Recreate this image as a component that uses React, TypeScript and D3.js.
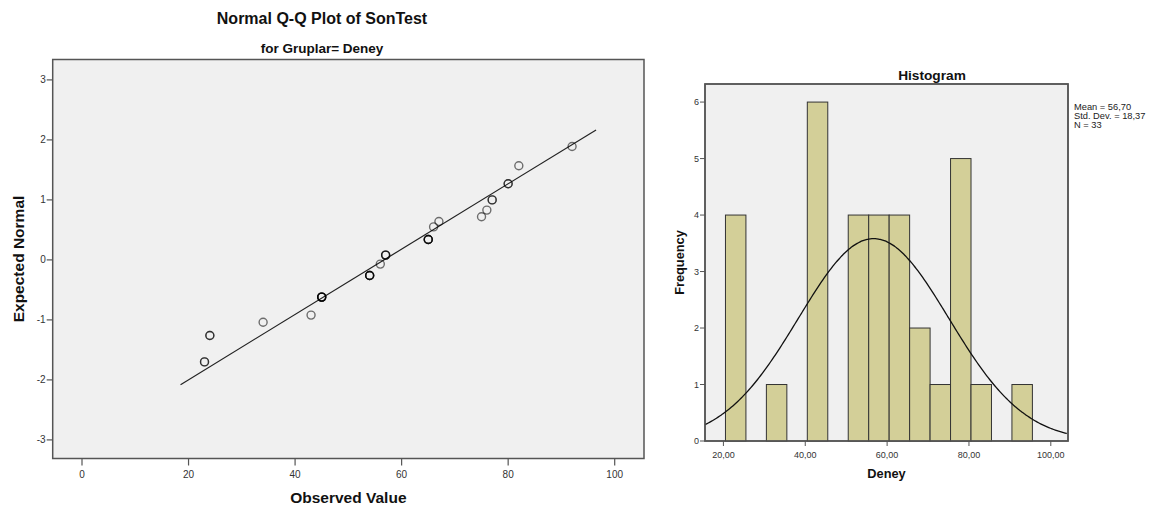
import React from "react";
import * as d3 from "d3";

// ---------- Q-Q plot data ----------
const qqObserved = [23, 24, 34, 43, 45, 54, 56, 57, 65, 66, 67, 75, 76, 77, 80, 82, 92];
const qqExpected = [-1.7, -1.26, -1.04, -0.92, -0.62, -0.26, -0.07, 0.08, 0.34, 0.55, 0.64, 0.72, 0.83, 1.0, 1.27, 1.57, 1.89];
const qqCounts = [2, 2, 1, 1, 5, 4, 1, 3, 4, 1, 1, 1, 1, 2, 2, 1, 1];
const qqLineRange = [18.5, 96.5];
const qqXTicks = [0, 20, 40, 60, 80, 100];
const qqYTicks = [-3, -2, -1, 0, 1, 2, 3];

// ---------- Histogram data ----------
const binStarts = [20.5, 30.5, 40.5, 50.5, 55.5, 60.5, 65.5, 70.5, 75.5, 80.5, 90.5];
const binFreq = [4, 1, 6, 4, 4, 4, 2, 1, 5, 1, 1];
const binWidth = 5;
const histXTicks = [20, 40, 60, 80, 100];
const histYTicks = [0, 1, 2, 3, 4, 5, 6];
const statMean = 56.7;
const statSd = 18.37;
const statN = 33;
const statLines = ["Mean = 56,70", "Std. Dev. = 18,37", "N = 33"];

const FONT = "Arial, 'Liberation Sans', sans-serif";

export default function App() {
  // Q-Q layout
  const q = { left: 52.7, right: 644, top: 59.5, bottom: 458.5 };
  const qx = d3.scaleLinear().domain([-5.5, 105.5]).range([q.left, q.right]);
  const qy = d3.scaleLinear().domain([-3.31, 3.34]).range([q.bottom, q.top]);
  const zOf = (v: number) => (v - statMean) / statSd;

  // Histogram layout
  const h = { left: 705, right: 1068, top: 84, bottom: 441 };
  const hx = d3.scaleLinear().domain([15.5, 104.2]).range([h.left, h.right]);
  const hy = d3.scaleLinear().domain([0, 6.32]).range([h.bottom, h.top]);
  const peak = (statN * binWidth) / (statSd * Math.sqrt(2 * Math.PI));
  const curveXs = d3.range(15.5, 104.21, 0.4);
  const curve = d3
    .line<number>()
    .x((d) => hx(d))
    .y((d) => hy(peak * Math.exp(-0.5 * zOf(d) * zOf(d))))
    .curve(d3.curveBasis)(curveXs);
  const fmt = (v: number) => d3.format(".2f")(v).replace(".", ",");

  const points: { x: number; y: number; k: string }[] = [];
  qqObserved.forEach((o, i) => {
    for (let c = 0; c < qqCounts[i]; c++) points.push({ x: o, y: qqExpected[i], k: `${i}-${c}` });
  });

  return (
    <svg
      width={1150}
      height={510}
      style={{ position: "absolute", left: 0, top: 0, background: "#fff" }}
      fontFamily={FONT}
    >
      {/* ---------------- Q-Q plot ---------------- */}
      <text x={322} y={24} textAnchor="middle" fontSize={16} fontWeight="bold" fill="#111">
        Normal Q-Q Plot of SonTest
      </text>
      <text x={322} y={52.5} textAnchor="middle" fontSize={13.5} fontWeight="bold" fill="#111">
        for Gruplar= Deney
      </text>
      <rect x={q.left} y={q.top} width={q.right - q.left} height={q.bottom - q.top} fill="#f0f0f0" stroke="#555" strokeWidth={1.5} />
      {qqYTicks.map((t) => (
        <g key={`qy${t}`}>
          <line x1={q.left - 6} x2={q.left} y1={qy(t)} y2={qy(t)} stroke="#555" strokeWidth={1.2} />
          <text x={q.left - 7} y={qy(t)} dy="0.35em" textAnchor="end" fontSize={10} fill="#333">
            {t}
          </text>
        </g>
      ))}
      {qqXTicks.map((t) => (
        <g key={`qx${t}`}>
          <line x1={qx(t)} x2={qx(t)} y1={q.bottom} y2={q.bottom + 7} stroke="#555" strokeWidth={1.2} />
          <text x={qx(t)} y={478} textAnchor="middle" fontSize={10} fill="#333">
            {t}
          </text>
        </g>
      ))}
      <text
        transform={`translate(24,${(q.top + q.bottom) / 2}) rotate(-90)`}
        textAnchor="middle"
        fontSize={15.5}
        fontWeight="bold"
        fill="#111"
      >
        Expected Normal
      </text>
      <text x={(q.left + q.right) / 2} y={503} textAnchor="middle" fontSize={15.5} fontWeight="bold" fill="#111">
        Observed Value
      </text>
      <line
        x1={qx(qqLineRange[0])}
        y1={qy(zOf(qqLineRange[0]))}
        x2={qx(qqLineRange[1])}
        y2={qy(zOf(qqLineRange[1]))}
        stroke="#222"
        strokeWidth={1.2}
      />
      {points.map((p) => (
        <circle
          key={p.k}
          cx={qx(p.x)}
          cy={qy(p.y)}
          r={4}
          fill="none"
          stroke="#000"
          strokeOpacity={0.55}
          strokeWidth={1.4}
        />
      ))}

      {/* ---------------- Histogram ---------------- */}
      <text x={932} y={80} textAnchor="middle" fontSize={13.7} fontWeight="bold" fill="#111">
        Histogram
      </text>
      <rect x={h.left} y={h.top} width={h.right - h.left} height={h.bottom - h.top} fill="#f0f0f0" stroke="#555" strokeWidth={1.5} />
      {binStarts.map((b, i) => (
        <rect
          key={`bin${i}`}
          x={hx(b)}
          y={hy(binFreq[i])}
          width={hx(b + binWidth) - hx(b)}
          height={hy(0) - hy(binFreq[i])}
          fill="#d3cf98"
          stroke="#333"
          strokeWidth={1}
        />
      ))}
      <clipPath id="histClip">
        <rect x={h.left} y={h.top} width={h.right - h.left} height={h.bottom - h.top} />
      </clipPath>
      <path d={curve || ""} fill="none" stroke="#111" strokeWidth={1.3} clipPath="url(#histClip)" />
      <rect x={h.left} y={h.top} width={h.right - h.left} height={h.bottom - h.top} fill="none" stroke="#555" strokeWidth={1.5} />
      {histYTicks.map((t) => (
        <g key={`hy${t}`}>
          <line x1={h.left - 5} x2={h.left} y1={hy(t)} y2={hy(t)} stroke="#555" strokeWidth={1} />
          <text x={h.left - 6} y={hy(t)} dy="0.35em" textAnchor="end" fontSize={9} fill="#333">
            {t}
          </text>
        </g>
      ))}
      {histXTicks.map((t) => (
        <g key={`hx${t}`}>
          <line x1={hx(t)} x2={hx(t)} y1={h.bottom} y2={h.bottom + 5} stroke="#555" strokeWidth={1} />
          <text x={hx(t)} y={458} textAnchor="middle" fontSize={9} fill="#333">
            {fmt(t)}
          </text>
        </g>
      ))}
      <text
        transform={`translate(684,${(h.top + h.bottom) / 2}) rotate(-90)`}
        textAnchor="middle"
        fontSize={12.8}
        fontWeight="bold"
        fill="#111"
      >
        Frequency
      </text>
      <text x={(h.left + h.right) / 2} y={478} textAnchor="middle" fontSize={12.8} fontWeight="bold" fill="#111">
        Deney
      </text>
      {statLines.map((s, i) => (
        <text key={s} x={1074} y={109.5 + i * 9} fontSize={9.3} fill="#222">
          {s}
        </text>
      ))}
    </svg>
  );
}
